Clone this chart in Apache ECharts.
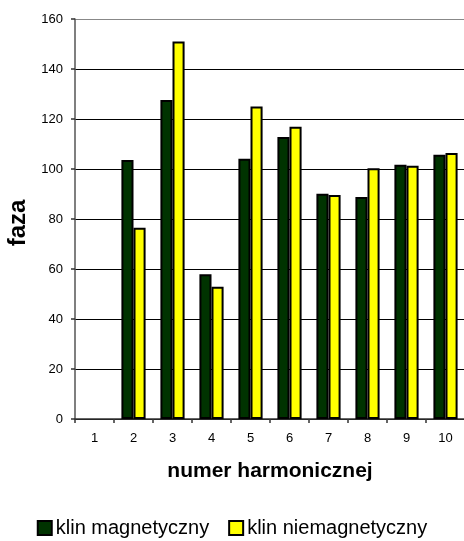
<!DOCTYPE html>
<html>
<head>
<meta charset="utf-8">
<script src="https://cdn.jsdelivr.net/npm/echarts@6/dist/echarts.min.js"></script>
<style>
html,body{margin:0;padding:0;background:#fff;}
#chart{width:464px;height:541px;}
</style>
</head>
<body>
<div id="chart"></div>
<script>
const categories = ['1','2','3','4','5','6','7','8','9','10'];
const klinMagnetyczny = [null, 103.6, 127.6, 57.9, 104.1, 112.8, 90.1, 88.8, 101.7, 105.7];
const klinNiemagnetyczny = [null, 76.5, 151.0, 52.9, 125.0, 116.9, 89.6, 100.3, 101.3, 106.4];
const seriesNames = ['klin magnetyczny', 'klin niemagnetyczny'];
const xTitle = 'numer harmonicznej';
const yTitle = 'faza';

const FONT = "'Liberation Sans', Arial, sans-serif";
const chart = echarts.init(document.getElementById('chart'));
chart.setOption({
  animation: false,
  backgroundColor: '#fff',
  textStyle: { fontFamily: FONT, color: '#000' },
  grid: { left: 75, right: -1, top: 19, bottom: 122, containLabel: false, outerBoundsMode: 'none' },
  legend: {
    bottom: -2,
    left: 'center',
    itemWidth: 14,
    itemHeight: 14,
    itemGap: 19,
    icon: 'rect',
    textStyle: { fontFamily: FONT, fontSize: 20, color: '#000', padding: [0,0,0,-1] },
    data: seriesNames
  },
  xAxis: {
    type: 'category',
    data: categories,
    boundaryGap: true,
    name: xTitle,
    nameLocation: 'middle',
    nameGap: 42,
    nameTextStyle: { fontFamily: FONT, fontSize: 21, fontWeight: 'bold', color: '#000' },
    axisLine: { lineStyle: { color: '#333', width: 1.5 } },
    axisTick: { show: true, alignWithLabel: false, length: 4, lineStyle: { color: '#333', width: 1.5 } },
    axisLabel: { fontFamily: FONT, fontSize: 13, color: '#000', margin: 13 }
  },
  yAxis: {
    type: 'value',
    min: 0, max: 160, interval: 20,
    name: yTitle,
    nameLocation: 'middle',
    nameGap: 45,
    nameRotate: 90,
    nameTextStyle: { fontFamily: FONT, fontSize: 24, fontWeight: 'bold', color: '#000', padding: [0,8,0,0] },
    axisLine: { show: true, lineStyle: { color: '#555', width: 1.5 } },
    axisTick: { show: true, length: 4, lineStyle: { color: '#333', width: 1.5 } },
    axisLabel: { fontFamily: FONT, fontSize: 13, color: '#000', margin: 12 },
    splitLine: { show: true, lineStyle: { color: ['#000','#000','#000','#000','#000','#000','#000','#000','#888'], width: 1 } }
  },
  series: [
    {
      name: seriesNames[0], type: 'bar', data: klinMagnetyczny,
      barGap: '0%', barCategoryGap: '38%',
      itemStyle: { color: '#003300', borderColor: '#000', borderWidth: 2 }
    },
    {
      name: seriesNames[1], type: 'bar', data: klinNiemagnetyczny,
      barGap: '0%', barCategoryGap: '38%',
      itemStyle: { color: '#ffff00', borderColor: '#000', borderWidth: 2 }
    }
  ]
});
</script>
</body>
</html>
